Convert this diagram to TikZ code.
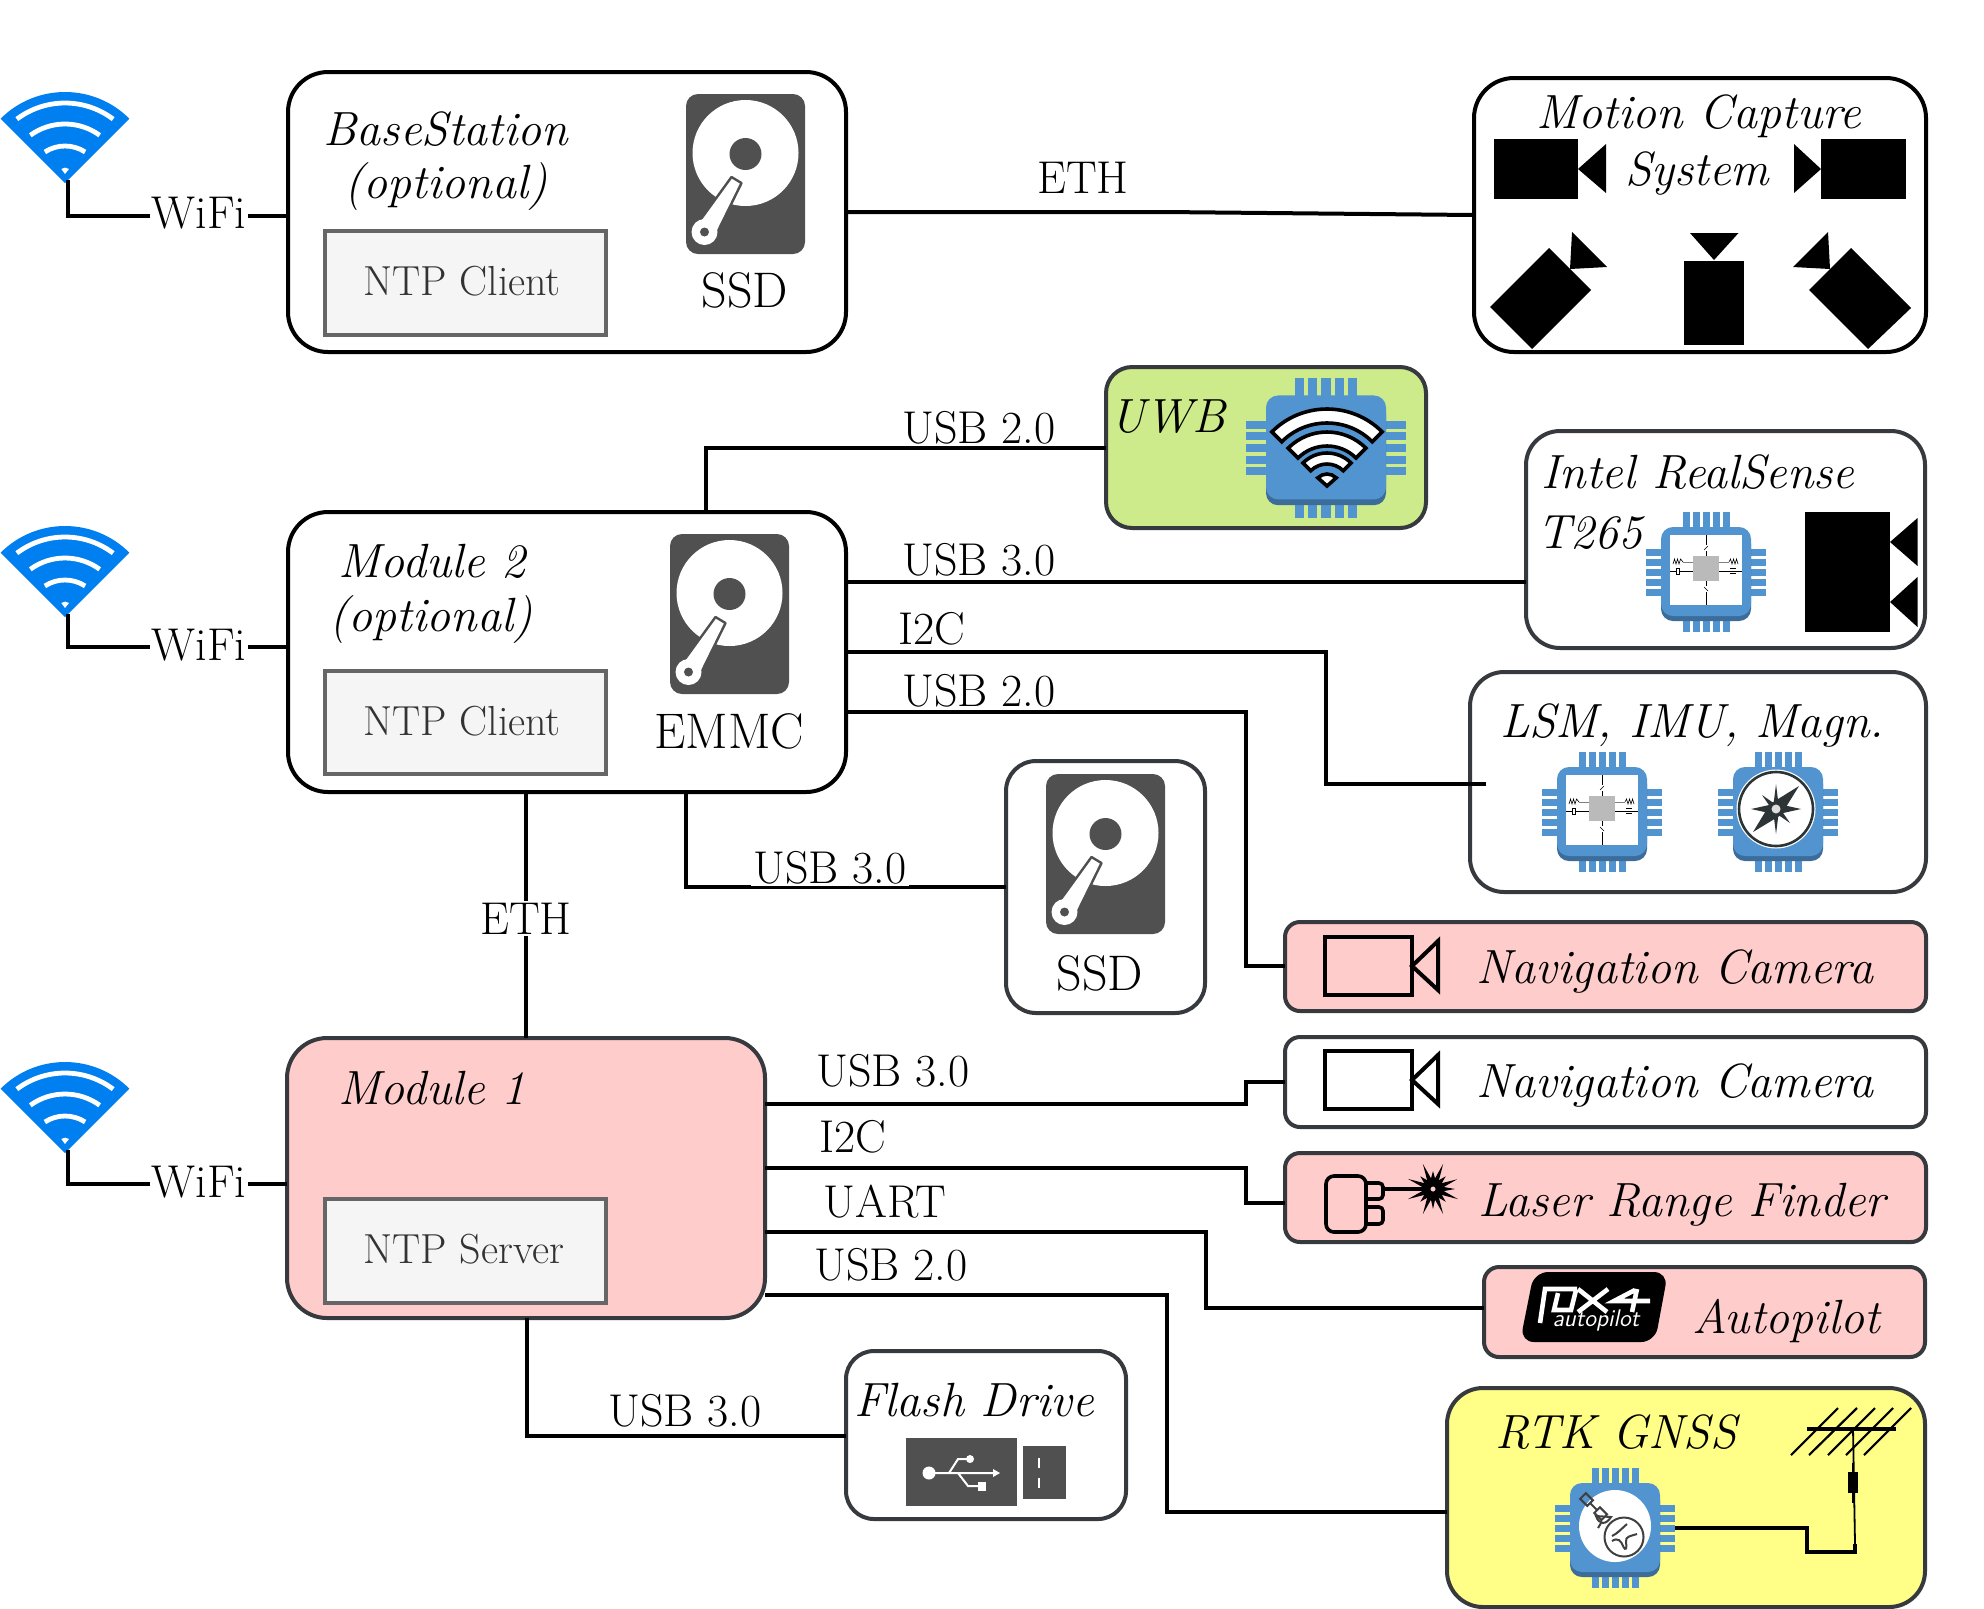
\documentclass[tikz,border=0pt]{standalone}
\usepackage{fontspec}
\definecolor{chipblue}{HTML}{5294CF}
\definecolor{chipdark}{HTML}{3C6C99}
\definecolor{edgegray}{HTML}{36393D}
\definecolor{hddgray}{HTML}{505050}
\definecolor{wifiblue}{HTML}{0080F0}
\definecolor{pinkfill}{HTML}{FFCCCC}
\definecolor{limefill}{HTML}{CDEB8B}
\definecolor{yellowfill}{HTML}{FFFF88}
\definecolor{ntpfill}{HTML}{F5F5F5}
\definecolor{ntpedge}{HTML}{666666}
\definecolor{needle}{HTML}{2D3436}
\newcommand{\mybox}[6]{%
  \pgfmathsetmacro\bcx{(#2+#4)/2}\pgfmathsetmacro\bcy{(#3+#5)/2}%
  \node[#6,minimum width={(#4-#2)*0.5pt},minimum height={(#5-#3)*0.5pt}] (#1) at (\bcx,\bcy) {};}
\newcommand{\hddicon}[2]{\begin{scope}[shift={(#1,#2)}]
  \fill[hddgray,rounded corners=6pt] (-59.5,-80) rectangle (59.5,80);
  \fill[white] (0,-21) circle (53);
  \fill[hddgray] (0,-20) circle (16);
  \filldraw[fill=white,draw=hddgray,line width=1.2pt,line join=round] (-14,3) -- (-4,9) -- (-28,58) -- (-51,54) -- cycle;
  \fill[white] (-41,58) circle (13);
  \fill[hddgray] (-41,58) circle (4.5);
\end{scope}}
\newcommand{\wifibluei}[2]{\begin{scope}[shift={(#1,#2)},yscale=-1]
  \fill[wifiblue] (0,0) -- (135:91) arc[start angle=135,end angle=45,radius=91] -- cycle;
  \foreach \rr/\aa in {80/37,59/36,37/33}{
    \draw[white,line width=2.4pt] ({90+\aa}:\rr) arc[start angle={90+\aa},end angle={90-\aa},radius=\rr];}
  \fill[white] (0,9) -- (4,14) arc[start angle=50,end angle=130,radius=6] -- cycle;
\end{scope}}
\newcommand{\chipicon}[5]{\begin{scope}[shift={(#1,#2)},xscale=#3,yscale=#4]
  \foreach \pp in {-20,-10,0,10,20}{
    \fill[chipblue] (\pp-3.5,-60) rectangle (\pp+3.5,-40);
    \fill[chipblue] (\pp-3.5,40) rectangle (\pp+3.5,60);
    \fill[chipblue] (-60,\pp-3.5) rectangle (-40,\pp+3.5);
    \fill[chipblue] (40,\pp-3.5) rectangle (60,\pp+3.5);}
  \fill[chipdark,rounded corners=6pt] (-45,-40) rectangle (45,49);
  \fill[chipblue,rounded corners=6pt] (-45,-45) rectangle (45,44);
  #5
\end{scope}}
\newcommand{\sensorinner}{%
  \fill[white] (-36,-37) rectangle (36,33);
  \draw[black,line width=0.3pt] (0,-37) -- (0,-27) (0,-21) -- (0,-16) (0,9) -- (0,14) (0,20) -- (0,33);
  \draw[black,line width=0.4pt] (-36,-1) -- (-13,-1) (13,-1) -- (36,-1);
  \draw[gray,line width=0.4pt] (-13,-10) -- (-23,-10) (13,-10) -- (23,-10);
  \draw[black,line width=0.3pt] (-33,-8) -- (-31.5,-13) -- (-30,-8) -- (-28.5,-13) -- (-27,-8) -- (-25.5,-13) -- (-23,-10);
  \draw[black,line width=0.3pt] (23,-10) -- (24.5,-13) -- (26,-8) -- (27.5,-13) -- (29,-8) -- (30.5,-13) -- (32,-8);
  \filldraw[fill=white,draw=black,line width=0.3pt] (-30,-4) rectangle (-27,2);
  \draw[black,line width=0.4pt] (24,-4) -- (30,-4) (24,1) -- (30,1);
  \draw[black,line width=0.3pt] (-2,-22) -- (2,-26) (-2,15) -- (2,19);
  \fill[black!27] (-13,-16) rectangle (13,9);}
\newcommand{\outlinecam}[2]{\begin{scope}[shift={(#1,#2)}]
  \draw[line width=2pt] (0,0) rectangle (87,58);
  \draw[line width=2pt,miter limit=4] (87,29) -- (113,4) -- (113,53) -- cycle;
\end{scope}}
\tikzset{
  conn/.style={draw=black,line width=2pt},
  bigbox/.style={draw=black,line width=2pt,fill=white,rounded corners=20pt,inner sep=0pt,outer sep=0pt},
  softbox/.style={draw=edgegray,line width=2pt,fill=white,inner sep=0pt,outer sep=0pt},
  ntpbox/.style={draw=ntpedge,line width=2pt,fill=ntpfill,inner sep=0pt,outer sep=0pt},
  lab/.style={anchor=base,inner sep=0pt,font=\fontsize{23}{27}\selectfont},
  onlab/.style={anchor=base,inner xsep=1pt,inner ysep=1pt,fill=white,font=\fontsize{23}{27}\selectfont},
  bigl/.style={anchor=base,inner sep=0pt,font=\fontsize{25}{29}\selectfont},
  ntpl/.style={anchor=base,inner sep=0pt,text=black!80,font=\fontsize{21}{25}\selectfont},
  ital/.style={anchor=base,inner sep=0pt,font=\fontsize{24}{28}\selectfont\itshape},
}
\begin{document}
\begin{tikzpicture}[x=0.5pt,y=-0.5pt]
\useasboundingbox (0,0) rectangle (1984,1608);
% boxes
\mybox{bs}{288}{72}{846}{352}{bigbox}
\mybox{mod2}{288}{512}{846}{792}{bigbox}
\mybox{mod1}{287}{1038}{765}{1318}{softbox,fill=pinkfill,rounded corners=20pt}
\mybox{mc}{1474}{78}{1926}{352}{bigbox}
\mybox{uwb}{1106}{367}{1426}{528}{softbox,fill=limefill,rounded corners=13pt}
\mybox{rs}{1526}{431}{1925}{648}{softbox,rounded corners=17pt}
\mybox{lsm}{1470}{672}{1926}{892}{softbox,rounded corners=17pt}
\mybox{ssd}{1006}{761}{1205}{1013}{softbox,rounded corners=15pt}
\mybox{navp}{1285}{922}{1926}{1011}{softbox,fill=pinkfill,rounded corners=7.5pt}
\mybox{navw}{1285}{1037}{1926}{1127}{softbox,rounded corners=7.5pt}
\mybox{laser}{1285}{1153}{1926}{1242}{softbox,fill=pinkfill,rounded corners=7.5pt}
\mybox{ap}{1484}{1267}{1925}{1357}{softbox,fill=pinkfill,rounded corners=7.5pt}
\mybox{flash}{846}{1351}{1126}{1519}{softbox,rounded corners=14pt}
\mybox{rtk}{1447}{1388}{1925}{1607}{softbox,fill=yellowfill,rounded corners=18pt}
\mybox{ntpa}{325}{231}{606}{335}{ntpbox}
\mybox{ntpb}{325}{671}{606}{774}{ntpbox}
\mybox{ntpc}{325}{1199}{606}{1303}{ntpbox}
% wifi icons
\wifibluei{65}{183}\wifibluei{65}{617}\wifibluei{65}{1153}
\coordinate (wa) at (68,180);\coordinate (wb) at (68,614);\coordinate (wc) at (68,1150);
% connectors
\draw[conn] (wa) |- (bs.west |- 0,216);
\draw[conn] (wb) |- (mod2.west |- 0,647);
\draw[conn] (wc) |- (mod1.west |- 0,1184);
\coordinate (ethbend) at (1165,212);
\draw[conn] (bs.east) -- (ethbend) -- (mc.west);
\draw[conn] (mod2.north -| 706,0) |- (uwb.west);
\draw[conn] (mod2.east |- 0,582) -- (rs.west |- 0,582);
\coordinate (lsmend) at (1486,784);
\draw[conn] (mod2.east |- 0,652) -| (1326,784) -- (lsmend);
\draw[conn] (mod2.east |- 0,712) -| (1246,966) -- (navp.west |- 0,966);
\draw[conn] (mod2.south -| 526,0) -- (mod1.north -| 526,0);
\draw[conn] (mod2.south -| 686,0) |- (ssd.west |- 0,887);
\draw[conn] (mod1.east |- 0,1104) -| (1246,1082) -- (navw.west |- 0,1082);
\draw[conn] (mod1.east |- 0,1168) -| (1246,1203) -- (laser.west |- 0,1203);
\draw[conn] (mod1.east |- 0,1232) -| (1206,1308) -- (ap.west |- 0,1308);
\draw[conn] (mod1.east |- 0,1295) -| (1167,1512) -- (rtk.west |- 0,1512);
\draw[conn] (mod1.south -| 527,0) |- (flash.west |- 0,1436);
% labels on lines
\node[onlab] (wifia) at (199,228) {WiFi};
\node[onlab] (wifib) at (199,660) {WiFi};
\node[onlab] (wific) at (199,1197) {WiFi};
\node[lab] (lethtop) at (1083,193) {ETH};
\node[lab] (lusba) at (979,443) {USB 2.0};
\node[lab] (lusbb) at (979,575) {USB 3.0};
\node[lab] (li2ca) at (932,644) {I2C};
\node[lab] (lusbc) at (979,706) {USB 2.0};
\node[onlab] (lethm) at (526,934) {ETH};
\node[onlab] (lusbd) at (830,883) {USB 3.0};
\node[lab] (lusbe) at (893,1086) {USB 3.0};
\node[lab] (li2cb) at (853,1152) {I2C};
\node[lab] (luart) at (885,1217) {UART};
\node[lab] (lusbf) at (891,1280) {USB 2.0};
\node[lab] (lusbg) at (685,1426) {USB 3.0};
% titles
\node[ital] (tbs) at (446,145) {BaseStation};
\node[ital] (tbso) at (446,198) {(optional)};
\node[ital] (tm2) at (432,577) {Module 2};
\node[ital] (tm2o) at (431,631) {(optional)};
\node[ital] (tm1) at (432,1104) {Module 1};
\node[ntpl] (na) at (462,295) {NTP Client};
\node[ntpl] (nb) at (462,735) {NTP Client};
\node[ntpl] (nc) at (464,1263) {NTP Server};
\node[bigl] (tssda) at (745,307) {SSD};
\node[bigl] (temmc) at (729,748) {EMMC};
\node[bigl] (tssdb) at (1100,990) {SSD};
\node[ital] (tmca) at (1699,128) {Motion Capture};
\node[ital] (tmcb) at (1697,185) {System};
\node[ital] (tuwb) at (1168,432) {UWB};
\node[ital] (trsa) at (1698,488) {Intel RealSense};
\node[ital] (trsb) at (1590,548) {T265};
\node[ital] (tlsm) at (1692,737) {LSM, IMU, Magn.};
\node[ital] (tnava) at (1675,983) {Navigation Camera};
\node[ital] (tnavb) at (1675,1097) {Navigation Camera};
\node[ital] (tlaser) at (1682,1216) {Laser Range Finder};
\node[ital] (tap) at (1786,1333) {Autopilot};
\node[ital] (tflash) at (974,1416) {Flash Drive};
\node[ital] (trtk) at (1616,1448) {RTK GNSS};
% hdd icons
\hddicon{745.5}{174}\hddicon{729.5}{614}\hddicon{1105.5}{854}
% motion capture cameras
\fill (1494,139) rectangle (1578,199);
\fill (1578,169) -- (1606,144) -- (1606,193) -- cycle;
\fill (1821,139) rectangle (1906,199);
\fill (1821,169) -- (1794,144) -- (1794,193) -- cycle;
\fill (1549,248) -- (1591,290) -- (1532,349) -- (1490,307) -- cycle;
\fill (1572,232) -- (1607,267) -- (1570,269) -- cycle;
\fill (1690,233) -- (1738.5,233) -- (1714,260) -- cycle;
\fill (1684,261) rectangle (1744,345);
\fill (1851,248) -- (1911,308) -- (1868,349) -- (1809,290) -- cycle;
\fill (1828,232) -- (1793,267) -- (1830,269) -- cycle;
% UWB chip
\chipicon{1326}{448}{1.333}{1.167}{}
\begin{scope}[shift={(1327,487)},yscale=-1]
  \foreach \ra/\rb in {78/64,55/41,34/23}{
    \filldraw[fill=white,draw=black,line width=1.8pt,line join=miter]
      (135:\ra) arc[start angle=135,end angle=45,radius=\ra] -- (45:\rb) arc[start angle=45,end angle=135,radius=\rb] -- cycle;}
  \filldraw[fill=white,draw=black,line width=1.8pt] (0,1) -- (135:13) arc[start angle=135,end angle=45,radius=13] -- cycle;
\end{scope}
% RealSense
\chipicon{1706}{572}{1}{1}{\sensorinner}
\fill (1805,512) rectangle (1890,632);
\fill (1890,542) -- (1917.5,518) -- (1917.5,566) -- cycle;
\fill (1890,602) -- (1917.5,577) -- (1917.5,627) -- cycle;
% LSM chips
\chipicon{1602}{812}{1}{1}{\sensorinner}
\chipicon{1778}{812}{1}{1}{
  \fill[white] (-2,-3) circle (39.5);
  \filldraw[fill=white,draw=needle,line width=1.3pt] (-2,-3) circle (37);
  \begin{scope}[shift={(-2,-3)}]
    \fill[needle] (0,-25) -- (2.5,-5) -- (25,0) -- (2.5,5) -- (0,25) -- (-2.5,5) -- (-25,0) -- (-2.5,-5) -- cycle;
    \fill[needle] (-14,-14) -- (-1,-5) -- (-5,-1) -- cycle;
    \fill[needle] (14,14) -- (1,5) -- (5,1) -- cycle;
    \fill[needle] (23,-23) -- (5,6) -- (-23,23) -- (-6,-5) -- cycle;
    \fill[black!13] (0,0) circle (4.5);
  \end{scope}}
% navigation cameras
\outlinecam{1325}{937}
\outlinecam{1325}{1051}
% laser
\draw[line width=1.8pt,rounded corners=4pt] (1326,1176) rectangle (1366,1232);
\draw[line width=1.8pt,rounded corners=2pt] (1367,1183) -- (1383,1183) -- (1383,1199) -- (1367,1199);
\draw[line width=1.8pt,rounded corners=2pt] (1367,1207) -- (1383,1207) -- (1383,1224) -- (1367,1224);
\begin{scope}[shift={(1433,1189)}]
  \foreach \aa/\rr in {0/22,22/27,45/18,68/27,90/20,112/27,135/18,158/27,180/22,202/27,225/18,248/27,270/18,292/27,315/18,338/26}{
    \fill ({\aa-13}:10) -- (\aa:\rr) -- ({\aa+13}:10) -- cycle;}
  \fill (0,0) circle (11);
\end{scope}
\draw[line width=1.8pt] (1383,1189) -- (1428,1189);
\filldraw[fill=pinkfill,draw=black,line width=0.8pt] (1433,1189) circle (3.5);
% PX4 logo
\fill[rounded corners=7pt] (1534,1272) -- (1668,1272) -- (1655,1342) -- (1520,1342) -- cycle;
\begin{scope}[white,line width=2.3pt]
  \draw (1540,1323) -- (1545,1289) -- (1577,1289);
  \draw (1558,1293) -- (1554,1310) -- (1571,1310) -- (1576,1290);
  \draw (1578,1289) -- (1607,1312) (1608,1289) -- (1578,1312);
  \draw (1635,1290) -- (1614,1301) -- (1650,1301) (1637,1289) -- (1632,1312);
\end{scope}
\node[anchor=base,inner sep=0pt,text=white,font=\fontsize{12}{14}\selectfont\sffamily\itshape] (tpx) at (1596,1326) {autopilot};
% USB icon
\fill[hddgray] (906,1438) rectangle (1017,1506);
\fill[hddgray] (1023,1446) rectangle (1066,1499);
\draw[white,line width=1pt] (1038.5,1458) -- (1038.5,1468) (1038.5,1478) -- (1038.5,1488);
\fill[white] (929,1473) circle (6.5);
\draw[white,line width=1pt] (929,1473) -- (995,1473) (949,1473) -- (958,1459) -- (970,1459) (958,1473) -- (968,1486) -- (982,1486);
\fill[white] (1000,1473) -- (993,1469) -- (993,1477) -- cycle;
\fill[white] (970,1459) circle (4);
\fill[white] (978,1482) rectangle (986,1491);
% GNSS chip and antenna
\draw[line width=2pt] (1674,1528) -- (1807,1528) -- (1807,1552) -- (1855,1552) -- (1855,1544);
\draw[line width=0.9pt] (1855,1544) -- (1853,1429);
\fill (1848,1472) rectangle (1858,1493);
\draw[line width=0.8pt] (1853,1463) -- (1853,1503);
\draw[line width=2pt] (1807,1429) -- (1896,1429);
\foreach \xa/\xb in {1791/1838,1809/1857,1828/1875,1846/1893,1864/1911}{
  \draw[line width=1.1pt] (\xa,1455) -- (\xb,1408);}
\chipicon{1615}{1528}{1}{1}{
  \fill[white] (0,-2) circle (36);
  \begin{scope}[draw=black!75,line width=1pt]
    \draw (9,9) circle (19.5);
    \draw (-9,10) ++(7,0) (-3,8) .. controls (3,5) and (5,2) .. (12,-4);
    \draw (-3,13) .. controls (3,9) and (6,13) .. (8,18) .. controls (11,24) and (12,20) .. (11,14) .. controls (10,8) and (16,8) .. (22,6);
    \begin{scope}[shift={(-20,-20)},rotate=-45]
      \draw (-17,-4) rectangle (-7,4);
      \draw (3,-4) rectangle (13,4);
      \draw (-7,0) -- (3,0);
    \end{scope}
    \draw (-19,-12) .. controls (-16,-3) and (-9,-3) .. (-4,-11) -- cycle;
    \draw (-14,-5) -- (-17,0);
  \end{scope}}
\end{tikzpicture}
\end{document}
